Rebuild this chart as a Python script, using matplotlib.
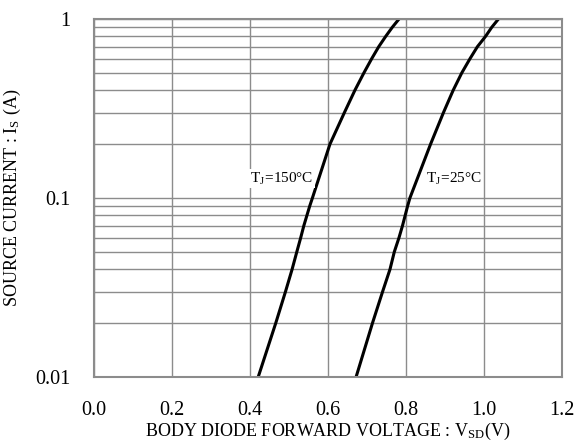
import matplotlib
matplotlib.use("Agg")
import matplotlib.pyplot as plt
from matplotlib.ticker import FixedLocator, FixedFormatter, NullFormatter

plt.rcParams['font.family'] = ['Liberation Serif', 'DejaVu Serif']
plt.rcParams['mathtext.fontset'] = 'stix'

# data
current_pts = [0.01, 0.02, 0.03, 0.04, 0.05, 0.06, 0.07, 0.09, 0.1,
               0.2, 0.3, 0.4, 0.5, 0.6, 0.7, 0.8, 0.9, 1.0]
v_150 = [0.421, 0.466, 0.491, 0.508, 0.520, 0.530, 0.538, 0.553, 0.560,
         0.605, 0.642, 0.669, 0.692, 0.712, 0.730, 0.748, 0.765, 0.782]
v_25 = [0.672, 0.714, 0.740, 0.759, 0.770, 0.782, 0.791, 0.804, 0.810,
        0.863, 0.896, 0.921, 0.943, 0.964, 0.983, 1.004, 1.020, 1.037]

x_ticks = [0.0, 0.2, 0.4, 0.6, 0.8, 1.0, 1.2]
x_ticklabels = ['0.0', '0.2', '0.4', '0.6', '0.8', '1.0', '1.2']
y_ticks = [0.01, 0.1, 1]
y_ticklabels = ['0.01', '0.1', '1']

grid_col = '#8c8c8c'

fig = plt.figure(figsize=(5.81, 4.41), dpi=100)
ax = fig.add_axes([0.1618, 0.1451, 0.8055, 0.8118])

ax.plot(v_150, current_pts, color='black', lw=2.2, solid_joinstyle='round')
ax.plot(v_25, current_pts, color='black', lw=2.2, solid_joinstyle='round')

ax.set_yscale('log')
ax.set_xlim(0, 1.2)
ax.set_ylim(0.01, 1)

ax.xaxis.set_major_locator(FixedLocator(x_ticks))
ax.xaxis.set_major_formatter(FixedFormatter(x_ticklabels))
ax.yaxis.set_major_locator(FixedLocator(y_ticks))
ax.yaxis.set_major_formatter(FixedFormatter(y_ticklabels))
ax.yaxis.set_minor_formatter(NullFormatter())

ax.grid(True, which='major', color=grid_col, lw=1.0)
ax.grid(True, which='minor', axis='y', color=grid_col, lw=1.0)
ax.set_axisbelow(True)
ax.tick_params(which='both', length=0, labelsize=14.5, pad=17)
for s in ax.spines.values():
    s.set_color(grid_col)
    s.set_linewidth(1.5)

ax.set_xlabel(r'BODY DIODE FORWARD VOLTAGE : V$_\mathregular{SD}$(V)', fontsize=13, labelpad=1)
ax.set_ylabel(r'SOURCE CURRENT : I$_\mathregular{S}$ (A)', fontsize=13, labelpad=9)

box = dict(facecolor='white', edgecolor='none', pad=1)
ax.text(0.482, 0.128, r'T$_\mathregular{J}$=150°C', fontsize=11, ha='center', va='center', bbox=box)
ax.text(0.923, 0.128, r'T$_\mathregular{J}$=25°C', fontsize=11, ha='center', va='center', bbox=box)

fig.savefig('out.png', dpi=100)
